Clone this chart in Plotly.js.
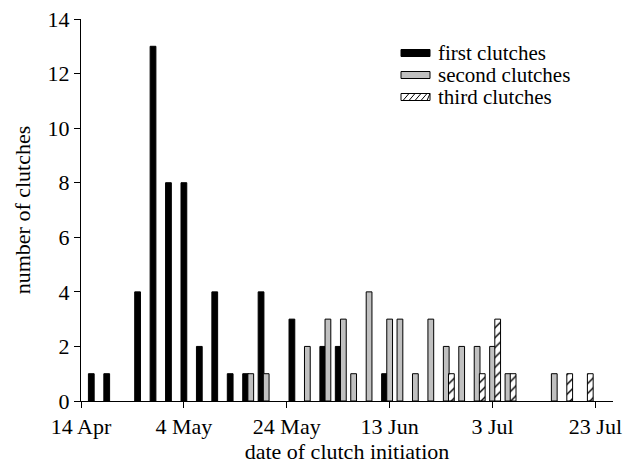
<!DOCTYPE html>
<html>
<head>
<meta charset="utf-8">
<script src="https://cdn.plot.ly/plotly-3.0.1.min.js"></script>
<style>html,body{margin:0;padding:0;background:#fff;}#chart{width:642px;height:470px;}</style>
</head>
<body>
<div id="chart"></div>
<script>
// first clutches
var firstDates = ['2001-04-16','2001-04-19','2001-04-25','2001-04-28','2001-05-01','2001-05-04','2001-05-07','2001-05-10','2001-05-13','2001-05-16','2001-05-19','2001-05-25','2001-05-31','2001-06-03','2001-06-12'];
var firstCounts = [1,1,4,13,8,8,2,4,1,1,4,3,2,2,1];
// second clutches
var secondDates = ['2001-05-17','2001-05-20','2001-05-28','2001-06-01','2001-06-04','2001-06-06','2001-06-09','2001-06-13','2001-06-15','2001-06-18','2001-06-21','2001-06-24','2001-06-27','2001-06-30','2001-07-03','2001-07-06','2001-07-15'];
var secondCounts = [1,1,2,3,3,1,4,3,3,1,3,2,2,2,2,1,1];
// third clutches
var thirdDates = ['2001-06-25','2001-07-01','2001-07-04','2001-07-07','2001-07-18','2001-07-22'];
var thirdCounts = [1,1,3,1,1,1];
// series names
var seriesNames = ['first clutches','second clutches','third clutches'];
// axis ticks
var xTickVals = ['2001-04-14','2001-05-04','2001-05-24','2001-06-13','2001-07-03','2001-07-23'];
var xTickText = ['14 Apr','4 May','24 May','13 Jun','3 Jul','23 Jul'];
var yTickVals = [0,2,4,6,8,10,12,14];

var DAY = 86400000;
var barW = 1.12 * DAY;
var FAM = 'Liberation Serif, Times New Roman, serif';
var font = {family: FAM, size: 22, color: '#000'};

function widths(arr){ return arr.map(function(){ return barW; }); }

var fills = ['#000','#c0c0c0','#fff'];

var traces = [
  {type:'bar', name:seriesNames[0], x:firstDates, y:firstCounts, width:widths(firstDates),
   marker:{color:fills[0], line:{color:'#000', width:1}}},
  {type:'bar', name:seriesNames[1], x:secondDates, y:secondCounts, width:widths(secondDates),
   marker:{color:fills[1], line:{color:'#000', width:1}}},
  {type:'bar', name:seriesNames[2], x:thirdDates, y:thirdCounts, width:widths(thirdDates),
   marker:{color:fills[2], line:{color:'#000', width:1},
     pattern:{shape:'/', fgcolor:'#000', bgcolor:'#fff', size:7, solidity:0.2}}}
];

// plot area in pixels (for legend box placement)
var M = {l:81, r:29, t:19, b:69};
var PW = 642 - M.l - M.r, PH = 470 - M.t - M.b;
function px(x){ return (x - M.l) / PW; }
function py(y){ return (470 - M.b - y) / PH; }

// legend drawn as swatches + text, matching the original's wide flat keys
var shapes = [], annotations = [];
var legX0 = 401, legX1 = 430, legTextX = 436, legRowY = [53, 75, 97], swH = 7;
for (var i = 0; i < 3; i++) {
  var yc = legRowY[i];
  shapes.push({type:'rect', xref:'paper', yref:'paper',
    x0:px(legX0), x1:px(legX1), y0:py(yc + swH/2), y1:py(yc - swH/2),
    fillcolor:fills[i], line:{color:'#000', width:1}});
  if (i === 2) {
    for (var k = 0; k < 5; k++) {
      var xs = legX0 + 2 + k * 6;
      shapes.push({type:'line', xref:'paper', yref:'paper',
        x0:px(xs), y0:py(yc + swH/2), x1:px(Math.min(xs + 6, legX1)), y1:py(yc - swH/2),
        line:{color:'#000', width:1}});
    }
  }
  annotations.push({xref:'paper', yref:'paper', x:px(legTextX), y:py(yc), xanchor:'left', yanchor:'middle',
    text:seriesNames[i], showarrow:false, font:{family:FAM, size:21, color:'#000'}});
}

var layout = {
  width:642, height:470,
  margin:M,
  paper_bgcolor:'#fff', plot_bgcolor:'#fff',
  font: font,
  barmode:'overlay',
  showlegend:false,
  shapes:shapes,
  annotations:annotations,
  xaxis:{type:'date', range:['2001-04-14','2001-07-26 10:00'],
    tickvals:xTickVals, ticktext:xTickText, ticks:'outside', ticklen:6, tickwidth:1, tickcolor:'#000',
    showline:true, linecolor:'#000', linewidth:1, showgrid:false, zeroline:false,
    tickfont:font, title:{text:'date of clutch initiation', font:font, standoff:4}},
  yaxis:{range:[0,14], tickvals:yTickVals, ticks:'outside', ticklen:6, tickwidth:1, tickcolor:'#000',
    showline:true, linecolor:'#000', linewidth:1, showgrid:false, zeroline:false,
    tickfont:font, title:{text:'number of clutches', font:font, standoff:10}}
};

Plotly.newPlot('chart', traces, layout, {displayModeBar:false, staticPlot:true});
</script>
</body>
</html>
